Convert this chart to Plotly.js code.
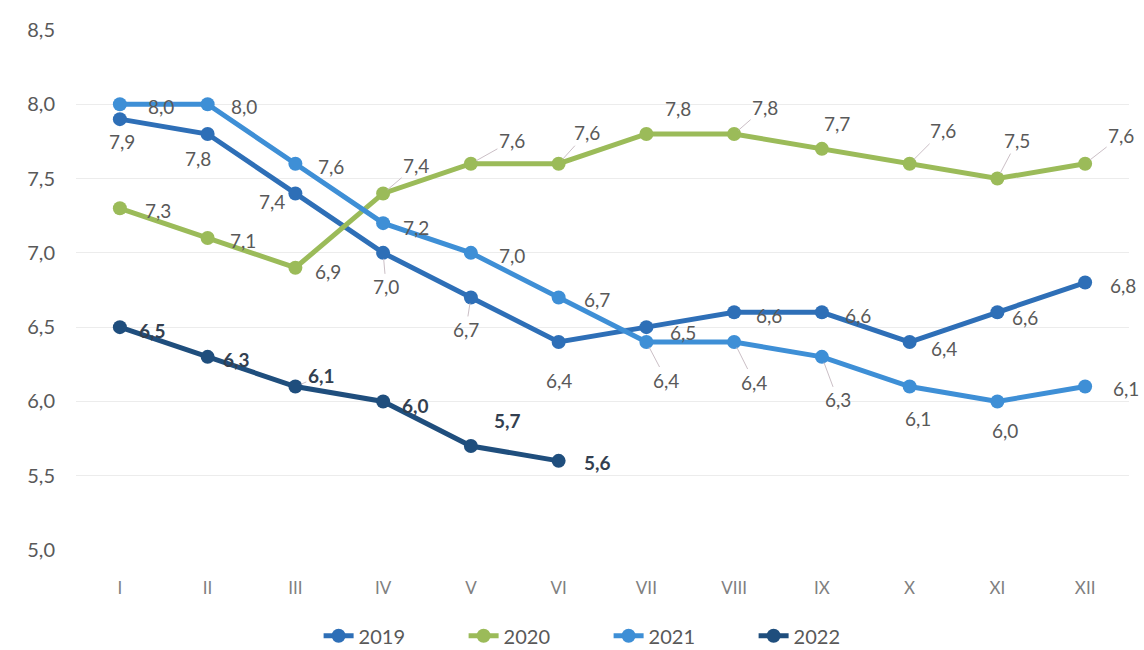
<!DOCTYPE html>
<html>
<head>
<meta charset="utf-8">
<script src="https://cdn.plot.ly/plotly-3.0.1.min.js"></script>
<style>
  body { margin: 0; background: #fff; }
  #chart { width: 1144px; height: 650px; }
</style>
</head>
<body>
<div id="chart"></div>
<script>
var months = ["I", "II", "III", "IV", "V", "VI", "VII", "VIII", "IX", "X", "XI", "XII"];
var years = ["2019", "2020", "2021", "2022"];
var y2019 = [7.9, 7.8, 7.4, 7.0, 6.7, 6.4, 6.5, 6.6, 6.6, 6.4, 6.6, 6.8];
var y2020 = [7.3, 7.1, 6.9, 7.4, 7.6, 7.6, 7.8, 7.8, 7.7, 7.6, 7.5, 7.6];
var y2021 = [8.0, 8.0, 7.6, 7.2, 7.0, 6.7, 6.4, 6.4, 6.3, 6.1, 6.0, 6.1];
var y2022 = [6.5, 6.3, 6.1, 6.0, 5.7, 5.6];
var yticks = [5.0, 5.5, 6.0, 6.5, 7.0, 7.5, 8.0, 8.5];

var colors = ["#2e6fb7", "#9bbb59", "#3e8fd6", "#1f4e7d"];
var allvals = [y2019, y2020, y2021, y2022];

// label offsets [dx, dy, leader] per series, per point
var offs = [
  [[2,22,0],[-10,24,0],[-23,8,0],[3,34,1],[-5,32,1],[0,38,0],[37,5,0],[35,3,0],[36,3,0],[34,6,0],[28,5,0],[38,3,0]],
  [[38,2,0],[35,2,0],[33,4,0],[33,-28,1],[41,-23,1],[28,-31,1],[32,-26,0],[31,-27,1],[15,-25,0],[33,-33,1],[20,-38,1],[36,-28,1]],
  [[41,2,0],[36,2,0],[36,3,0],[33,4,0],[41,3,0],[38,2,0],[20,38,1],[20,40,1],[16,43,1],[8,32,0],[8,29,0],[41,2,0]],
  [[33,3,0],[29,3,0],[26,-11,1],[32,4,0],[37,-26,0],[39,2,0]]
];

function fmt(v) {
  return v.toFixed(1).replace(".", ",");
}

var traces = [];
var annots = [];
for (var s = 0; s < years.length; s++) {
  var vals = allvals[s];
  traces.push({
    x: months.slice(0, vals.length),
    y: vals,
    name: years[s],
    type: "scatter",
    mode: "lines+markers",
    line: {color: colors[s], width: 5},
    marker: {color: colors[s], size: 14},
    hoverinfo: "none"
  });
  for (var i = 0; i < vals.length; i++) {
    var o = offs[s][i];
    var bold = s == 3;
    annots.push({
      x: months[i],
      y: vals[i],
      xref: "x",
      yref: "y",
      text: bold ? "<b>" + fmt(vals[i]) + "</b>" : fmt(vals[i]),
      showarrow: true,
      arrowhead: 0,
      arrowwidth: 1,
      arrowcolor: o[2] ? "#cbbfc6" : "rgba(0,0,0,0)",
      standoff: 6,
      ax: o[0],
      ay: o[1],
      font: {family: "Lato, sans-serif", size: 19, color: bold ? "#333f50" : "#595959"}
    });
  }
}

var layout = {
  width: 1144,
  height: 650,
  paper_bgcolor: "#ffffff",
  plot_bgcolor: "#ffffff",
  margin: {l: 76, r: 15, t: 30, b: 100},
  showlegend: true,
  legend: {
    orientation: "h",
    x: 0.532,
    xanchor: "center",
    xref: "container",
    y: 0.022,
    yanchor: "middle",
    yref: "container",
    font: {family: "Lato, sans-serif", size: 20, color: "#595959"},
    entrywidth: 100,
    entrywidthmode: "pixels",
    itemwidth: 30
  },
  xaxis: {
    type: "category",
    categoryarray: months,
    range: [-0.5, 11.5],
    showgrid: false,
    zeroline: false,
    showline: false,
    ticks: "",
    ticklabelstandoff: 26,
    tickfont: {family: "Lato, sans-serif", size: 17, color: "#808080"}
  },
  yaxis: {
    range: [5, 8.5],
    tickvals: yticks,
    ticktext: yticks.map(fmt),
    showgrid: true,
    gridcolor: "#ececec",
    gridwidth: 1,
    zeroline: false,
    showline: false,
    ticks: "",
    ticklabelstandoff: 20,
    tickfont: {family: "Lato, sans-serif", size: 20, color: "#595959"}
  },
  annotations: annots
};

Plotly.newPlot("chart", traces, layout, {displayModeBar: false, staticPlot: true});
</script>
</body>
</html>
